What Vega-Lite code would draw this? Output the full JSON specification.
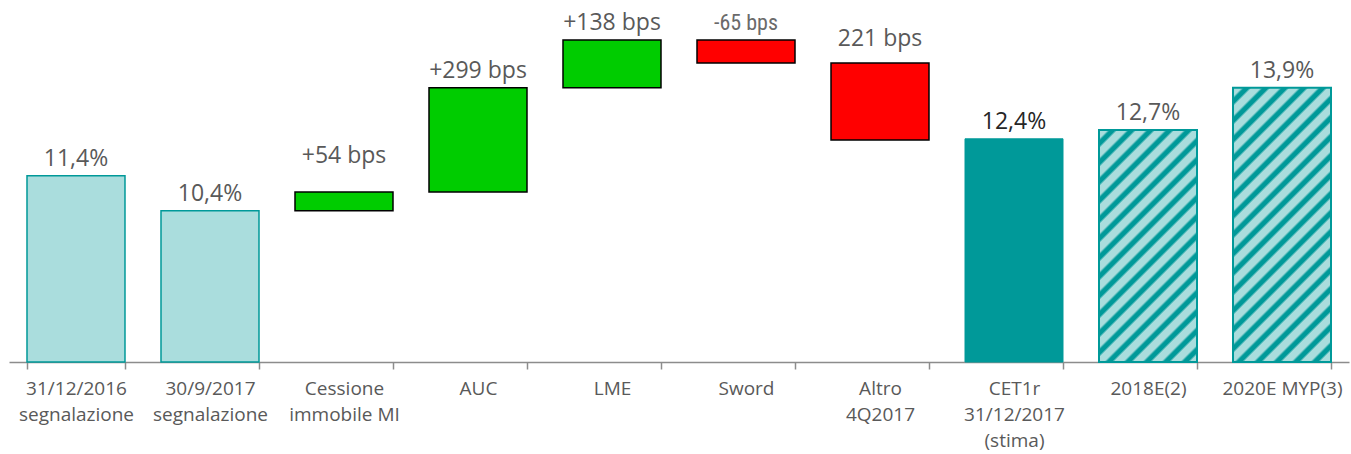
{
  "$schema": "https://vega.github.io/schema/vega-lite/v6.json",
  "width": 1340,
  "height": 362,
  "padding": {"left": 9, "top": 0, "right": 2, "bottom": 0},
  "autosize": {"type": "pad"},
  "background": "white",
  "config": {"view": {"stroke": null}, "font": "Open Sans"},
  "data": {
    "values": [
      {"cat": "31/12/2016|segnalazione", "hi": 11.4, "lo": null, "label": "11,4%", "kind": "base"},
      {"cat": "30/9/2017|segnalazione", "hi": 10.4, "lo": null, "label": "10,4%", "kind": "base"},
      {"cat": "Cessione|immobile MI", "hi": 10.94, "lo": 10.4, "label": "+54 bps", "kind": "up"},
      {"cat": "AUC", "hi": 13.9, "lo": 10.94, "label": "+299 bps", "kind": "up"},
      {"cat": "LME", "hi": 15.26, "lo": 13.9, "label": "+138 bps", "kind": "up"},
      {"cat": "Sword", "hi": 15.26, "lo": 14.61, "label": "-65 bps", "kind": "down"},
      {"cat": "Altro|4Q2017", "hi": 14.61, "lo": 12.42, "label": "221 bps", "kind": "down"},
      {"cat": "CET1r|31/12/2017|(stima)", "hi": 12.45, "lo": null, "label": "12,4%", "kind": "total"},
      {"cat": "2018E(2)", "hi": 12.7, "lo": null, "label": "12,7%", "kind": "hatchA"},
      {"cat": "2020E MYP(3)", "hi": 13.9, "lo": null, "label": "13,9%", "kind": "hatchB"}
    ]
  },
  "encoding": {
    "x": {
      "field": "cat",
      "type": "nominal",
      "sort": ["31/12/2016|segnalazione", "30/9/2017|segnalazione", "Cessione|immobile MI", "AUC", "LME", "Sword", "Altro|4Q2017", "CET1r|31/12/2017|(stima)", "2018E(2)", "2020E MYP(3)"],
      "scale": {"paddingInner": 0.2687, "paddingOuter": 0.1343},
      "axis": {
        "title": null,
        "labelAngle": 0,
        "labelExpr": "datum.value ? split(datum.value, '|') : ''",
        "labelFont": "Open Sans",
        "labelFontSize": 19,
        "labelColor": "#595959",
        "labelLineHeight": 26,
        "labelBaseline": "top",
        "labelPadding": 10,
        "labelOverlap": false,
        "labelLimit": 200,
        "tickBand": "extent",
        "tickSize": 7,
        "tickWidth": 1.5,
        "tickColor": "#8c8c8c",
        "domainColor": "#8c8c8c",
        "domainWidth": 1.5,
        "grid": false
      }
    },
    "y": {
      "field": "hi",
      "type": "quantitative",
      "scale": {"domain": [6.1, 16.4], "zero": false, "nice": false},
      "axis": null
    }
  },
  "layer": [
    {
      "transform": [{"filter": "datum.kind == 'base'"}],
      "mark": {"type": "bar", "fill": "#aadddd", "stroke": "#009999", "strokeWidth": 1.5},
      "encoding": {"y2": {"datum": 6.1}}
    },
    {
      "transform": [{"filter": "datum.kind == 'total'"}],
      "mark": {"type": "bar", "fill": "#009999", "stroke": "#009999", "strokeWidth": 1},
      "encoding": {"y2": {"datum": 6.1}}
    },
    {
      "transform": [{"filter": "datum.kind == 'hatchA'"}],
      "mark": {
        "type": "bar",
        "stroke": "#009999",
        "strokeWidth": 2,
        "fill": {
          "gradient": "linear",
          "x1": 0, "y1": 0, "x2": 0.5871, "y2": 1.3899,
          "stops": [
            {"offset": 0, "color": "#aadddd"}, {"offset": 0.0225, "color": "#aadddd"}, {"offset": 0.03, "color": "#009999"}, {"offset": 0.0425, "color": "#009999"},
            {"offset": 0.05, "color": "#aadddd"}, {"offset": 0.0725, "color": "#aadddd"}, {"offset": 0.08, "color": "#009999"}, {"offset": 0.0925, "color": "#009999"},
            {"offset": 0.1, "color": "#aadddd"}, {"offset": 0.1225, "color": "#aadddd"}, {"offset": 0.13, "color": "#009999"}, {"offset": 0.1425, "color": "#009999"},
            {"offset": 0.15, "color": "#aadddd"}, {"offset": 0.1725, "color": "#aadddd"}, {"offset": 0.18, "color": "#009999"}, {"offset": 0.1925, "color": "#009999"},
            {"offset": 0.2, "color": "#aadddd"}, {"offset": 0.2225, "color": "#aadddd"}, {"offset": 0.23, "color": "#009999"}, {"offset": 0.2425, "color": "#009999"},
            {"offset": 0.25, "color": "#aadddd"}, {"offset": 0.2725, "color": "#aadddd"}, {"offset": 0.28, "color": "#009999"}, {"offset": 0.2925, "color": "#009999"},
            {"offset": 0.3, "color": "#aadddd"}, {"offset": 0.3225, "color": "#aadddd"}, {"offset": 0.33, "color": "#009999"}, {"offset": 0.3425, "color": "#009999"},
            {"offset": 0.35, "color": "#aadddd"}, {"offset": 0.3725, "color": "#aadddd"}, {"offset": 0.38, "color": "#009999"}, {"offset": 0.3925, "color": "#009999"},
            {"offset": 0.4, "color": "#aadddd"}, {"offset": 0.4225, "color": "#aadddd"}, {"offset": 0.43, "color": "#009999"}, {"offset": 0.4425, "color": "#009999"},
            {"offset": 0.45, "color": "#aadddd"}, {"offset": 0.4725, "color": "#aadddd"}, {"offset": 0.48, "color": "#009999"}, {"offset": 0.4925, "color": "#009999"},
            {"offset": 0.5, "color": "#aadddd"}, {"offset": 0.5225, "color": "#aadddd"}, {"offset": 0.53, "color": "#009999"}, {"offset": 0.5425, "color": "#009999"},
            {"offset": 0.55, "color": "#aadddd"}, {"offset": 0.5725, "color": "#aadddd"}, {"offset": 0.58, "color": "#009999"}, {"offset": 0.5925, "color": "#009999"},
            {"offset": 0.6, "color": "#aadddd"}, {"offset": 0.6225, "color": "#aadddd"}, {"offset": 0.63, "color": "#009999"}, {"offset": 0.6425, "color": "#009999"},
            {"offset": 0.65, "color": "#aadddd"}, {"offset": 0.6725, "color": "#aadddd"}, {"offset": 0.68, "color": "#009999"}, {"offset": 0.6925, "color": "#009999"},
            {"offset": 0.7, "color": "#aadddd"}, {"offset": 0.7225, "color": "#aadddd"}, {"offset": 0.73, "color": "#009999"}, {"offset": 0.7425, "color": "#009999"},
            {"offset": 0.75, "color": "#aadddd"}, {"offset": 0.7725, "color": "#aadddd"}, {"offset": 0.78, "color": "#009999"}, {"offset": 0.7925, "color": "#009999"},
            {"offset": 0.8, "color": "#aadddd"}, {"offset": 0.8225, "color": "#aadddd"}, {"offset": 0.83, "color": "#009999"}, {"offset": 0.8425, "color": "#009999"},
            {"offset": 0.85, "color": "#aadddd"}, {"offset": 0.8725, "color": "#aadddd"}, {"offset": 0.88, "color": "#009999"}, {"offset": 0.8925, "color": "#009999"},
            {"offset": 0.9, "color": "#aadddd"}, {"offset": 0.9225, "color": "#aadddd"}, {"offset": 0.93, "color": "#009999"}, {"offset": 0.9425, "color": "#009999"},
            {"offset": 0.95, "color": "#aadddd"}, {"offset": 0.9725, "color": "#aadddd"}, {"offset": 0.98, "color": "#009999"}, {"offset": 0.9925, "color": "#009999"},
            {"offset": 1, "color": "#aadddd"}
          ]
        }
      },
      "encoding": {"y2": {"datum": 6.1}}
    },
    {
      "transform": [{"filter": "datum.kind == 'hatchB'"}],
      "mark": {
        "type": "bar",
        "stroke": "#009999",
        "strokeWidth": 2,
        "fill": {
          "gradient": "linear",
          "x1": 0, "y1": 0, "x2": 0.4398, "y2": 1.2296,
          "stops": [
            {"offset": 0, "color": "#aadddd"}, {"offset": 0.0225, "color": "#aadddd"}, {"offset": 0.03, "color": "#009999"}, {"offset": 0.0425, "color": "#009999"},
            {"offset": 0.05, "color": "#aadddd"}, {"offset": 0.0725, "color": "#aadddd"}, {"offset": 0.08, "color": "#009999"}, {"offset": 0.0925, "color": "#009999"},
            {"offset": 0.1, "color": "#aadddd"}, {"offset": 0.1225, "color": "#aadddd"}, {"offset": 0.13, "color": "#009999"}, {"offset": 0.1425, "color": "#009999"},
            {"offset": 0.15, "color": "#aadddd"}, {"offset": 0.1725, "color": "#aadddd"}, {"offset": 0.18, "color": "#009999"}, {"offset": 0.1925, "color": "#009999"},
            {"offset": 0.2, "color": "#aadddd"}, {"offset": 0.2225, "color": "#aadddd"}, {"offset": 0.23, "color": "#009999"}, {"offset": 0.2425, "color": "#009999"},
            {"offset": 0.25, "color": "#aadddd"}, {"offset": 0.2725, "color": "#aadddd"}, {"offset": 0.28, "color": "#009999"}, {"offset": 0.2925, "color": "#009999"},
            {"offset": 0.3, "color": "#aadddd"}, {"offset": 0.3225, "color": "#aadddd"}, {"offset": 0.33, "color": "#009999"}, {"offset": 0.3425, "color": "#009999"},
            {"offset": 0.35, "color": "#aadddd"}, {"offset": 0.3725, "color": "#aadddd"}, {"offset": 0.38, "color": "#009999"}, {"offset": 0.3925, "color": "#009999"},
            {"offset": 0.4, "color": "#aadddd"}, {"offset": 0.4225, "color": "#aadddd"}, {"offset": 0.43, "color": "#009999"}, {"offset": 0.4425, "color": "#009999"},
            {"offset": 0.45, "color": "#aadddd"}, {"offset": 0.4725, "color": "#aadddd"}, {"offset": 0.48, "color": "#009999"}, {"offset": 0.4925, "color": "#009999"},
            {"offset": 0.5, "color": "#aadddd"}, {"offset": 0.5225, "color": "#aadddd"}, {"offset": 0.53, "color": "#009999"}, {"offset": 0.5425, "color": "#009999"},
            {"offset": 0.55, "color": "#aadddd"}, {"offset": 0.5725, "color": "#aadddd"}, {"offset": 0.58, "color": "#009999"}, {"offset": 0.5925, "color": "#009999"},
            {"offset": 0.6, "color": "#aadddd"}, {"offset": 0.6225, "color": "#aadddd"}, {"offset": 0.63, "color": "#009999"}, {"offset": 0.6425, "color": "#009999"},
            {"offset": 0.65, "color": "#aadddd"}, {"offset": 0.6725, "color": "#aadddd"}, {"offset": 0.68, "color": "#009999"}, {"offset": 0.6925, "color": "#009999"},
            {"offset": 0.7, "color": "#aadddd"}, {"offset": 0.7225, "color": "#aadddd"}, {"offset": 0.73, "color": "#009999"}, {"offset": 0.7425, "color": "#009999"},
            {"offset": 0.75, "color": "#aadddd"}, {"offset": 0.7725, "color": "#aadddd"}, {"offset": 0.78, "color": "#009999"}, {"offset": 0.7925, "color": "#009999"},
            {"offset": 0.8, "color": "#aadddd"}, {"offset": 0.8225, "color": "#aadddd"}, {"offset": 0.83, "color": "#009999"}, {"offset": 0.8425, "color": "#009999"},
            {"offset": 0.85, "color": "#aadddd"}, {"offset": 0.8725, "color": "#aadddd"}, {"offset": 0.88, "color": "#009999"}, {"offset": 0.8925, "color": "#009999"},
            {"offset": 0.9, "color": "#aadddd"}, {"offset": 0.9225, "color": "#aadddd"}, {"offset": 0.93, "color": "#009999"}, {"offset": 0.9425, "color": "#009999"},
            {"offset": 0.95, "color": "#aadddd"}, {"offset": 0.9725, "color": "#aadddd"}, {"offset": 0.98, "color": "#009999"}, {"offset": 0.9925, "color": "#009999"},
            {"offset": 1, "color": "#aadddd"}
          ]
        }
      },
      "encoding": {"y2": {"datum": 6.1}}
    },
    {
      "transform": [{"filter": "datum.kind == 'up'"}],
      "mark": {"type": "bar", "fill": "#00cc00", "stroke": "#000000", "strokeWidth": 1.5},
      "encoding": {"y2": {"field": "lo"}}
    },
    {
      "transform": [{"filter": "datum.kind == 'down'"}],
      "mark": {"type": "bar", "fill": "#ff0000", "stroke": "#000000", "strokeWidth": 1.5},
      "encoding": {"y2": {"field": "lo"}}
    },
    {
      "transform": [{"filter": "datum.kind == 'base' || datum.kind == 'hatchA' || datum.kind == 'hatchB' || datum.cat == 'AUC' || datum.cat == 'LME'"}],
      "mark": {"type": "text", "baseline": "alphabetic", "dy": -10, "fontSize": 23, "color": "#595959", "font": "Open Sans"},
      "encoding": {"text": {"field": "label"}}
    },
    {
      "transform": [{"filter": "datum.kind == 'total'"}],
      "mark": {"type": "text", "baseline": "alphabetic", "dy": -10, "fontSize": 23, "color": "#262626", "font": "Open Sans"},
      "encoding": {"text": {"field": "label"}}
    },
    {
      "transform": [{"filter": "datum.cat == 'Cessione|immobile MI'"}],
      "mark": {"type": "text", "baseline": "alphabetic", "dy": -29, "fontSize": 23, "color": "#595959", "font": "Open Sans"},
      "encoding": {"text": {"field": "label"}}
    },
    {
      "transform": [{"filter": "datum.cat == 'Altro|4Q2017'"}],
      "mark": {"type": "text", "baseline": "alphabetic", "dy": -17, "fontSize": 23, "color": "#595959", "font": "Open Sans"},
      "encoding": {"text": {"field": "label"}}
    },
    {
      "transform": [{"filter": "datum.cat == 'Sword'"}],
      "mark": {"type": "text", "baseline": "alphabetic", "dy": -10, "fontSize": 22, "color": "#6a6a6a", "font": "Liberation Sans Narrow, Roboto Condensed, Open Sans"},
      "encoding": {"text": {"field": "label"}}
    }
  ]
}
